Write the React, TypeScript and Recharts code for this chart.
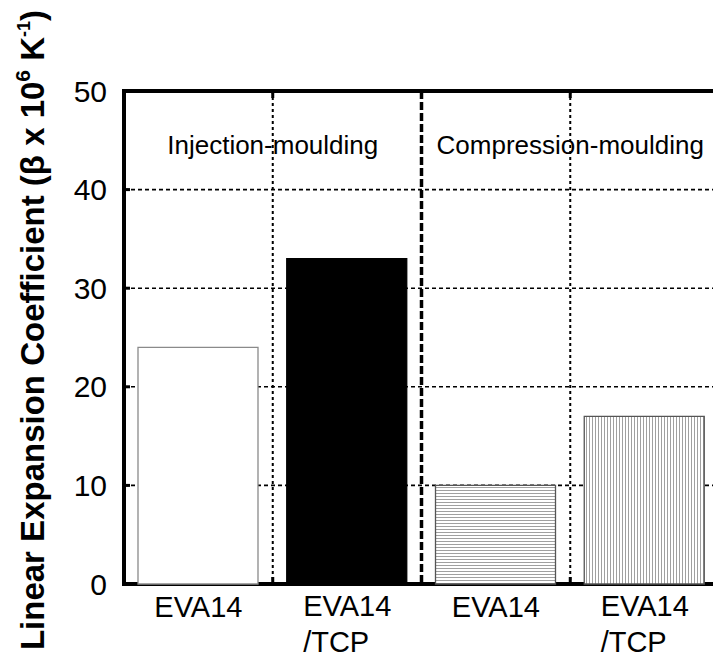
import {
  Bar,
  BarChart,
  CartesianGrid,
  Cell,
  ReferenceArea,
  ReferenceLine,
  XAxis,
  YAxis,
} from "recharts";

const categories = ["EVA14", "EVA14/TCP", "EVA14", "EVA14/TCP"];
const coefficients = [24, 33, 10, 17];
const yTicks = [0, 10, 20, 30, 40, 50];
const groupLabels = ["Injection-moulding", "Compression-moulding"];

const data = categories.map((name, i) => ({ slot: i, name, value: coefficients[i] }));

// looks per bar: open, solid, horizontal hatch, vertical hatch
const barLook = [
  { fill: "#ffffff", stroke: "#8a8a8a" },
  { fill: "#000000", stroke: "#000000" },
  { fill: "url(#hLines)", stroke: "#555555" },
  { fill: "url(#vLines)", stroke: "#555555" },
];

const FONT = 'Arial, "Liberation Sans", Helvetica, sans-serif';

function CategoryTick({ x, y, payload }: any) {
  const parts = categories[payload.value].split("/");
  if (parts.length === 1) {
    return (
      <text x={x} y={y + 33} textAnchor="middle" fontSize={29} fill="#000" fontFamily={FONT}>
        {parts[0]}
      </text>
    );
  }
  return (
    <text x={x - 44} y={y + 32} textAnchor="start" fontSize={29} fill="#000" fontFamily={FONT}>
      <tspan x={x - 44}>{parts[0]}</tspan>
      <tspan x={x - 44} dy={36}>
        {"/" + parts[1]}
      </tspan>
    </text>
  );
}

function YTitle() {
  return (
    <text
      x={44}
      y={330}
      transform="rotate(-90, 44, 330)"
      textAnchor="middle"
      fontSize={33}
      fontWeight="bold"
      fill="#000"
      fontFamily={FONT}
    >
      Linear Expansion Coefficient (β x 10
      <tspan dy={-14} fontSize={21}>
        6
      </tspan>
      <tspan dy={14}> K</tspan>
      <tspan dy={-14} fontSize={18}>
        -1
      </tspan>
      <tspan dy={14}>)</tspan>
    </text>
  );
}

// divider line between categories, with short solid stubs at top and bottom
function Divider(props: any) {
  const { x1, y1, x2, y2, stroke, strokeWidth, strokeDasharray } = props;
  const top = Math.min(y1, y2);
  const bottom = Math.max(y1, y2);
  return (
    <g>
      <line
        x1={x1}
        y1={top}
        x2={x2}
        y2={bottom}
        stroke={stroke}
        strokeWidth={strokeWidth}
        strokeDasharray={strokeDasharray}
      />
      <line x1={x1} y1={top} x2={x1} y2={top + 7} stroke="#000" strokeWidth={3} />
      <line x1={x1} y1={bottom} x2={x1} y2={bottom - 7} stroke="#000" strokeWidth={3} />
    </g>
  );
}

const labelStyle = { position: "insideTop", offset: 45, fontSize: 26, fill: "#000", fontFamily: FONT };

export default function App() {
  return (
    <div
      style={{
        position: "absolute",
        left: 0,
        top: 0,
        width: 713,
        height: 657,
        overflow: "hidden",
        background: "#fff",
        fontFamily: FONT,
      }}
    >
      <BarChart
        width={740}
        height={657}
        data={data}
        margin={{ top: 91, right: 21, bottom: 0, left: 0 }}
      >
        <defs>
          <pattern id="hLines" width="4" height="3" patternUnits="userSpaceOnUse">
            <rect width="4" height="3" fill="#fff" />
            <line x1="0" y1="1.5" x2="4" y2="1.5" stroke="#a0a0a0" strokeWidth="1" />
          </pattern>
          <pattern id="vLines" width="3" height="4" patternUnits="userSpaceOnUse">
            <rect width="3" height="4" fill="#fff" />
            <line x1="1.5" y1="0" x2="1.5" y2="4" stroke="#a0a0a0" strokeWidth="1" />
          </pattern>
        </defs>

        <CartesianGrid
          vertical={false}
          stroke="#000"
          strokeWidth={1.6}
          strokeDasharray="4 3"
        />

        <XAxis
          dataKey="slot"
          height={73}
          tickLine={false}
          axisLine={false}
          tickSize={0}
          tickMargin={0}
          tick={<CategoryTick />}
          interval={0}
        />
        <YAxis
          domain={[0, 50]}
          ticks={yTicks}
          width={124}
          axisLine={false}
          tickSize={-6}
          tickMargin={23}
          tickLine={{ stroke: "#000", strokeWidth: 3 }}
          tick={{ fill: "#000", fontSize: 30, fontFamily: FONT }}
          label={<YTitle />}
        />
        <YAxis
          yAxisId="right"
          orientation="right"
          domain={[0, 50]}
          ticks={yTicks}
          width={0}
          axisLine={false}
          tick={false}
          tickSize={-9}
          tickLine={{ stroke: "#000", strokeWidth: 3 }}
        />

        <Bar dataKey="value" barSize={120} isAnimationActive={false}>
          {data.map((d, i) => (
            <Cell
              key={i}
              fill={barLook[i].fill}
              stroke={barLook[i].stroke}
              strokeWidth={1.3}
            />
          ))}
        </Bar>

        <ReferenceLine
          x={1}
          position="start"
          stroke="#000"
          strokeWidth={2}
          strokeDasharray="3 3"
          shape={<Divider />}
          label={{ value: groupLabels[0], ...labelStyle }}
        />
        <ReferenceLine
          x={2}
          position="start"
          stroke="#000"
          strokeWidth={3.5}
          strokeDasharray="8 3"
          shape={<Divider />}
        />
        <ReferenceLine
          x={3}
          position="start"
          stroke="#000"
          strokeWidth={2}
          strokeDasharray="3 3"
          shape={<Divider />}
          label={{ value: groupLabels[1], ...labelStyle }}
        />

        <ReferenceArea
          x1={0}
          x2={3}
          y1={0}
          y2={50}
          fill="none"
          fillOpacity={0}
          stroke="#000"
          strokeWidth={4}
          ifOverflow="visible"
        />
      </BarChart>
    </div>
  );
}
